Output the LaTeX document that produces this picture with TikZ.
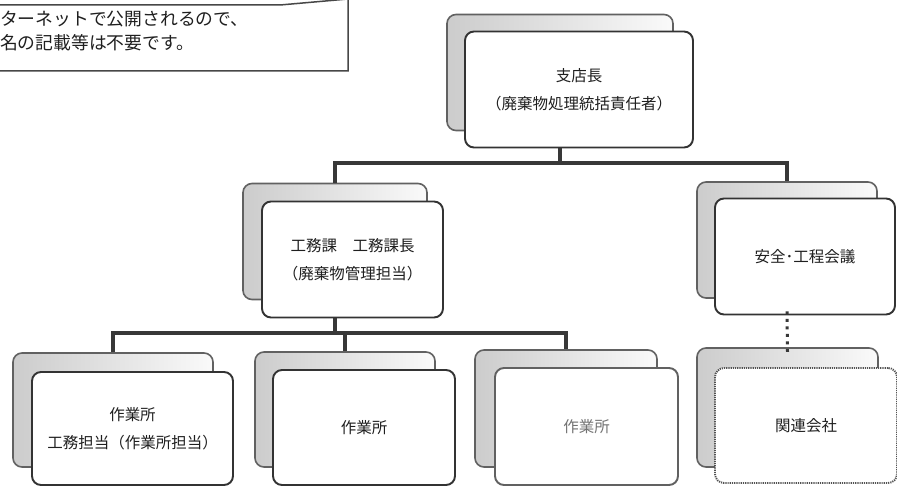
\documentclass[tikz,border=0pt]{standalone}
\usepackage{fontspec}
\newfontfamily\cjk{Noto Sans CJK JP}
\begin{document}
\begin{tikzpicture}[x=1pt,y=-1pt,
  backbox/.style={draw=black!62, line width=1.6pt, rounded corners=9pt,
    left color=black!20, right color=black!2, minimum height=116pt},
  frontbox/.style={draw=black!80, line width=1.9pt, rounded corners=9pt,
    fill=white, minimum height=116pt, align=center, text=black!88,
    font=\cjk\fontsize{15.5}{28}\selectfont},
  conn/.style={draw=black!78, line width=3.2pt},
  dotconn/.style={draw=black!78, line width=3pt, dash pattern=on 3pt off 4.5pt},
  callout/.style={draw=black!72, line width=1.5pt, fill=white},
  calltext/.style={anchor=west, inner sep=0pt, text=black!88,
    font=\cjk\fontsize{17.8}{24}\selectfont}
]
\useasboundingbox (0,0) rectangle (897,495);
\clip (0,0) rectangle (897,495);
\fill[white] (0,0) rectangle (897,495);

% callout
\draw[callout] (-10,5) -- (280,5) -- (348,-1) -- (348,71) -- (-10,71) -- cycle;
\node[calltext] (c1) at (0,19) {ターネットで公開されるので、};
\node[calltext] (c2) at (0,43) {名の記載等は不要です。};

% level 1
\node[backbox, minimum width=226pt] (shitenB) at (560,72.5) {};
\node[frontbox, minimum width=228pt] (shitenF) at (579,89.5) {支店長\\（廃棄物処理統括責任者）};

% level 2
\node[backbox, minimum width=184pt] (koumuB) at (335,241.5) {};
\node[frontbox, minimum width=181pt] (koumuF) at (352.5,259.5) {工務課　工務課長\\（廃棄物管理担当）};
\node[backbox, minimum width=180pt] (anzenB) at (787,240) {};
\node[frontbox, minimum width=180pt] (anzenF) at (805,256.5) {安全･工程会議};

% level 3
\node[backbox, minimum width=200pt, minimum height=114pt] (sa1B) at (113,410) {};
\node[frontbox, minimum width=201pt, minimum height=113pt] (sa1F) at (132.5,428.5) {作業所\\工務担当（作業所担当）};
\node[backbox, minimum width=180pt, minimum height=115pt] (sa2B) at (345,409.5) {};
\node[frontbox, minimum width=182pt, minimum height=115pt] (sa2F) at (364,427.5) {作業所};
\node[backbox, minimum width=182pt, minimum height=117pt] (sa3B) at (566,408.5) {};
\node[frontbox, draw=black!62, text=black!55, minimum width=183pt, minimum height=117pt] (sa3F) at (586.5,426.5) {作業所};
\node[backbox, minimum width=181pt, minimum height=119pt] (kanrenB) at (787.5,407.5) {};
\node[frontbox, draw=black!68, dash pattern=on 1.2pt off 1pt, minimum width=182pt, minimum height=115pt] (kanrenF) at (806,425.5) {関連会社};

% connectors
\coordinate (bus1) at (0,163);
\coordinate (bus2) at (0,333);
\draw[conn] (shitenF.south -| shitenB.north) -- (shitenB.north |- bus1);
\draw[conn] (koumuB.north) -- (koumuB.north |- bus1) -- (anzenB.north |- bus1) -- (anzenB.north);
\draw[conn] (koumuF.south -| koumuB.north) -- (koumuB.north |- bus2);
\draw[conn] (sa1B.north) -- (sa1B.north |- bus2) -- (sa3B.north |- bus2) -- (sa3B.north);
\draw[conn] (sa2B.north |- bus2) -- (sa2B.north);
\draw[dotconn] ([yshift=4pt]anzenF.south -| anzenB.north) -- ([yshift=-5pt]kanrenB.north);
\end{tikzpicture}
\end{document}
